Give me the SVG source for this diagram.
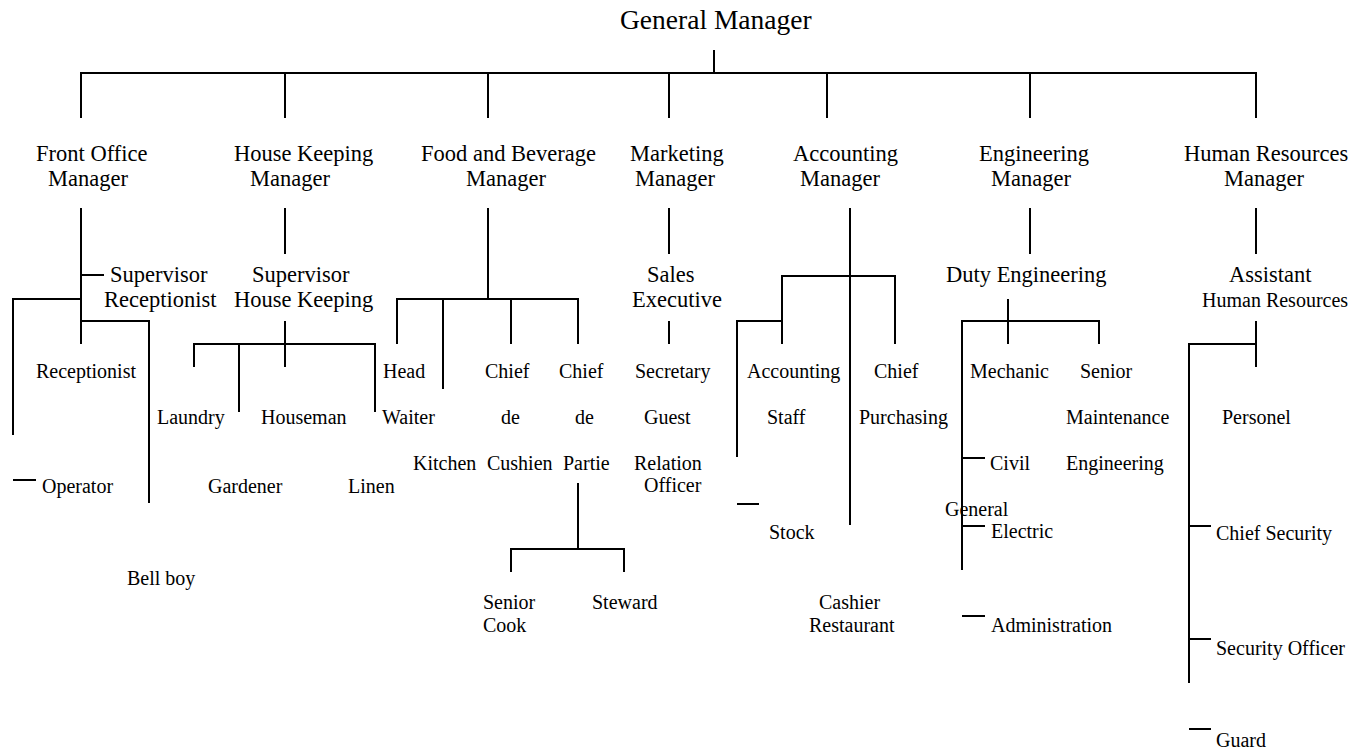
<svg xmlns="http://www.w3.org/2000/svg" width="1352" height="751" viewBox="0 0 1352 751" font-family="'Liberation Serif', 'Times New Roman', 'DejaVu Serif', serif">
  <style>
    text { font-family: "Liberation Serif", "Times New Roman", "DejaVu Serif", serif; fill: #000; }
    .top { font-size: 27.5px; }
    .l1 { font-size: 22.5px; }
    .l3 { font-size: 20px; }
    .conn path { fill: none; stroke: #000; stroke-width: 2; stroke-linecap: butt; stroke-linejoin: miter; }
  </style>
  <rect width="1352" height="751" fill="#fff"/>

  <!-- connectors -->
  <g class="conn" id="connectors">
    <!-- general manager to departments -->
    <path d="M714 50 V73"/>
    <path d="M81 118 V73 H1256 V118"/>
    <path d="M285 73 V118 M488 73 V118 M669 73 V118 M827 73 V118 M1030 73 V118"/>
    <!-- front office -->
    <path d="M81 208 V344 M81 275 H104"/>
    <path d="M81 299 H13 V435"/>
    <path d="M81 321 H149 V503"/>
    <path d="M13 480 H36"/>
    <!-- house keeping -->
    <path d="M285 208 V254 M285 321 V367"/>
    <path d="M194 367 V344 H375 V412 M239 344 V412"/>
    <!-- food and beverage -->
    <path d="M488 208 V299"/>
    <path d="M397 344 V299 H578 V344 M443 299 V389 M511 299 V344"/>
    <path d="M578 483 V549 M511 572 V549 H624 V572"/>
    <!-- marketing -->
    <path d="M669 208 V254 M669 321 V344"/>
    <!-- accounting -->
    <path d="M850 208 V525"/>
    <path d="M782 344 V276 H895 V344"/>
    <path d="M782 321 H737 V457 M737 504 H759"/>
    <!-- engineering -->
    <path d="M1030 208 V254 M1008 299 V344"/>
    <path d="M962 570 V321 H1099 V344"/>
    <path d="M962 458 H985 M962 526 H985 M962 616 H985"/>
    <!-- human resources -->
    <path d="M1256 208 V254 M1256 321 V367"/>
    <path d="M1256 344 H1189 V683"/>
    <path d="M1189 526 H1211 M1189 639 H1211 M1189 729 H1211"/>
  </g>

  <!-- top -->
  <g id="general-manager"><text class="top" x="620" y="29">General Manager</text></g>

  <!-- department managers -->
  <g id="front-office-manager" class="l1"><text x="36" y="161">Front Office</text><text x="48" y="186">Manager</text></g>
  <g id="house-keeping-manager" class="l1"><text x="234" y="161">House Keeping</text><text x="250" y="186">Manager</text></g>
  <g id="fnb-manager" class="l1"><text x="421" y="161">Food and Beverage</text><text x="466" y="186">Manager</text></g>
  <g id="marketing-manager" class="l1"><text x="630" y="161">Marketing</text><text x="635" y="186">Manager</text></g>
  <g id="accounting-manager" class="l1"><text x="793" y="161">Accounting</text><text x="800" y="186">Manager</text></g>
  <g id="engineering-manager" class="l1"><text x="979" y="161">Engineering</text><text x="991" y="186">Manager</text></g>
  <g id="hr-manager" class="l1"><text x="1184" y="161">Human Resources</text><text x="1224" y="186">Manager</text></g>

  <!-- second level -->
  <g id="supervisor-receptionist" class="l1"><text x="110" y="282">Supervisor</text><text x="104" y="307">Receptionist</text></g>
  <g id="supervisor-house-keeping" class="l1"><text x="252" y="282">Supervisor</text><text x="234" y="307">House Keeping</text></g>
  <g id="sales-executive" class="l1"><text x="647" y="282">Sales</text><text x="632" y="307">Executive</text></g>
  <g id="duty-engineering" class="l1"><text x="946" y="282">Duty Engineering</text></g>
  <g id="assistant-hr"><text class="l1" x="1229" y="282">Assistant</text><text class="l3" x="1202" y="307">Human Resources</text></g>

  <!-- front office staff -->
  <g id="receptionist" class="l3"><text x="36" y="378">Receptionist</text></g>
  <g id="operator" class="l3"><text x="42" y="493">Operator</text></g>
  <g id="bell-boy" class="l3"><text x="127" y="585">Bell boy</text></g>

  <!-- house keeping staff -->
  <g id="laundry" class="l3"><text x="157" y="424">Laundry</text></g>
  <g id="houseman" class="l3"><text x="261" y="424">Houseman</text></g>
  <g id="gardener" class="l3"><text x="208" y="493">Gardener</text></g>
  <g id="linen" class="l3"><text x="348" y="493">Linen</text></g>

  <!-- food and beverage staff -->
  <g id="head-waiter" class="l3"><text x="383" y="378">Head</text><text x="382" y="424">Waiter</text></g>
  <g id="chief-de-kitchen" class="l3"><text x="413" y="470">Kitchen</text></g>
  <g id="chief-de-cushien" class="l3"><text x="485" y="378">Chief</text><text x="501" y="424">de</text><text x="487" y="470">Cushien</text></g>
  <g id="chief-de-partie" class="l3"><text x="559" y="378">Chief</text><text x="575" y="424">de</text><text x="563" y="470">Partie</text></g>
  <g id="senior-cook" class="l3"><text x="483" y="609">Senior</text><text x="483" y="632">Cook</text></g>
  <g id="steward" class="l3"><text x="592" y="609">Steward</text></g>

  <!-- marketing staff -->
  <g id="secretary" class="l3"><text x="635" y="378">Secretary</text></g>
  <g id="guest-relation-officer" class="l3"><text x="644" y="424">Guest</text><text x="634" y="470">Relation</text><text x="644" y="492">Officer</text></g>

  <!-- accounting staff -->
  <g id="accounting-staff" class="l3"><text x="747" y="378">Accounting</text><text x="767" y="424">Staff</text></g>
  <g id="chief-purchasing" class="l3"><text x="874" y="378">Chief</text><text x="859" y="424">Purchasing</text></g>
  <g id="stock" class="l3"><text x="769" y="539">Stock</text></g>
  <g id="cashier-restaurant" class="l3"><text x="819" y="609">Cashier</text><text x="809" y="632">Restaurant</text></g>

  <!-- engineering staff -->
  <g id="mechanic" class="l3"><text x="970" y="378">Mechanic</text></g>
  <g id="senior-maintenance" class="l3"><text x="1080" y="378">Senior</text><text x="1066" y="424">Maintenance</text><text x="1066" y="470">Engineering</text></g>
  <g id="civil" class="l3"><text x="990" y="470">Civil</text></g>
  <g id="general-electric" class="l3"><text x="945" y="516">General</text><text x="991" y="538">Electric</text></g>
  <g id="administration" class="l3"><text x="991" y="632">Administration</text></g>

  <!-- human resources staff -->
  <g id="personel" class="l3"><text x="1222" y="424">Personel</text></g>
  <g id="chief-security" class="l3"><text x="1216" y="540">Chief Security</text></g>
  <g id="security-officer" class="l3"><text x="1216" y="655">Security Officer</text></g>
  <g id="guard" class="l3"><text x="1216" y="747">Guard</text></g>
</svg>
